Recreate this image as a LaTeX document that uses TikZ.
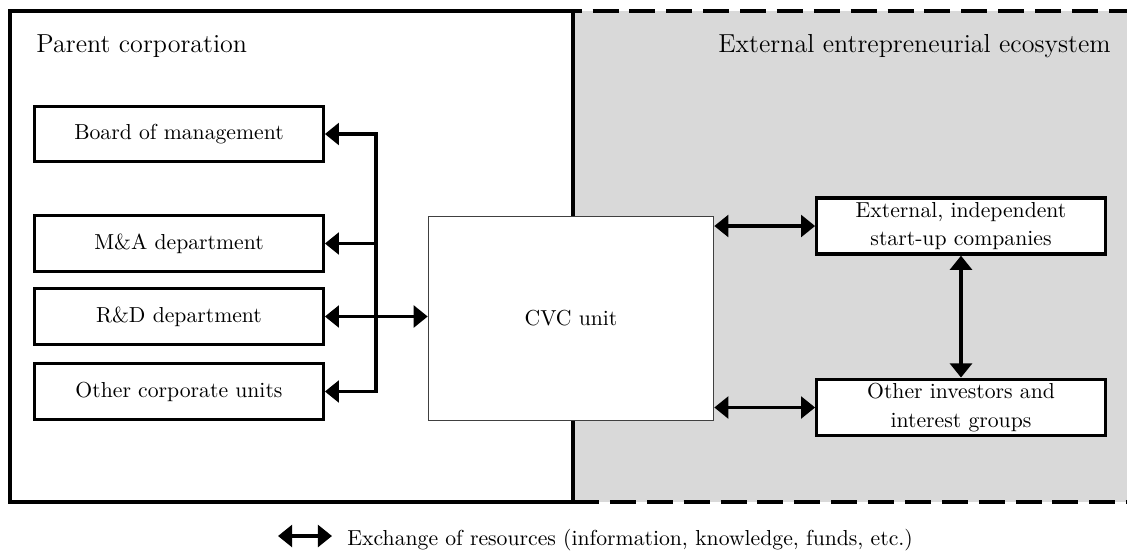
\documentclass[tikz,border=0pt]{standalone}
\usetikzlibrary{arrows.meta}
\definecolor{ecogray}{HTML}{D9D9D9}
\tikzset{
  >={Triangle[length=6.5pt,width=10pt]},
  frame/.style={line width=1.8pt},
  dashframe/.style={line width=1.8pt, dash pattern=on 12pt off 5pt},
  unitbox/.style={draw, line width=1.5pt, fill=white, minimum width=133pt, minimum height=25.5pt, inner sep=2pt, font=\fontsize{10}{13}\selectfont, align=center},
  cvcbox/.style={draw=black!75, line width=0.6pt, fill=white, minimum width=131.5pt, minimum height=94pt, font=\fontsize{10}{12}\selectfont},
  conn/.style={line width=1.7pt, <->},
  title/.style={font=\fontsize{12}{14}\selectfont, inner sep=0pt}
}
\begin{document}
\begin{tikzpicture}[x=0.461pt, y=-0.461pt]
\useasboundingbox (0,0) rectangle (1129,555);
% regions
\fill[ecogray] (573,11) rectangle (1127,502);
\draw[frame] (10,11) rectangle (573,502);
\draw[dashframe, dash phase=8pt] (573,11) -- (1127,11);
\draw[dashframe] (573,502) -- (1127,502);
% titles
\node[title, anchor=base west] (tpc) at (36,52) {Parent corporation};
\node[title, anchor=base east] (tee) at (1111,52) {External entrepreneurial ecosystem};
% left boxes
\node[unitbox] (board) at (179,134) {Board of management};
\node[unitbox] (ma) at (179,243.5) {M\&A department};
\node[unitbox] (rd) at (179,316.5) {R\&D department};
\node[unitbox] (other) at (179,391.5) {Other corporate units};
% CVC
\node[cvcbox] (cvc) at (571,318.5) {CVC unit};
% right boxes
\node[unitbox] (ext) at (961,226) {External, independent\\start-up companies};
\node[unitbox] (inv) at (961,407.5) {Other investors and\\interest groups};
% bus
\coordinate (bus) at (376,0);
\draw[conn, line join=miter] (board.east) -- (board.east -| bus) -- (other.east -| bus) -- (other.east);
\draw[line width=1.7pt, ->] (ma.east -| bus) -- (ma.east);
\draw[conn] (rd.east) -- (cvc.west |- rd.east);
% right connectors
\draw[conn] (cvc.east |- ext.west) -- (ext.west);
\draw[conn] (cvc.east |- inv.west) -- (inv.west);
\draw[conn] (ext.south) -- (inv.north);
% legend
\coordinate (la) at (278,536);
\coordinate (lb) at (332,536);
\draw[conn] (la) -- (lb);
\node[anchor=base west, inner sep=0pt, font=\fontsize{10}{12}\selectfont] (leg) at (347,545) {Exchange of resources (information, knowledge, funds, etc.)};
\end{tikzpicture}
\end{document}
